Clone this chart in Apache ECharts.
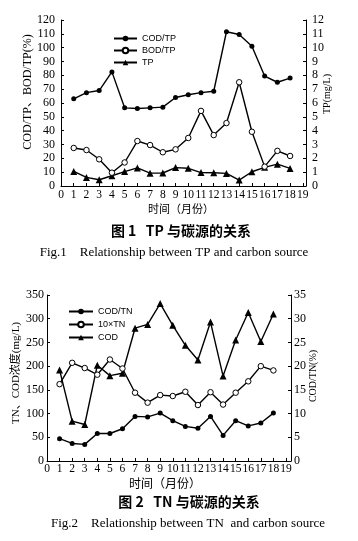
<!DOCTYPE html>
<html><head><meta charset="utf-8">
<script src="https://cdn.jsdelivr.net/npm/echarts@6/dist/echarts.min.js"></script>
<style>html,body{margin:0;padding:0;background:#fff}#c{width:358px;height:541px}</style>
</head><body><div id="c"></div>
<script>
var months = [1,2,3,4,5,6,7,8,9,10,11,12,13,14,15,16,17,18];
// Figure 1
var codTP = [63,67.5,69,82.5,56.5,56,56.5,57,64,66,67.5,68.5,111.5,109.5,101,79.5,75,78];
var bodTP = [27.5,26,19.3,9.6,17,32.5,29.6,24.4,26.5,34.7,54.3,36.8,45.5,75,39.2,14,25.4,21.7];
var tp    = [1.05,0.62,0.45,0.74,1.04,1.31,0.93,0.94,1.33,1.28,0.97,0.96,0.91,0.43,1.03,1.35,1.58,1.27];
// Figure 2
var codTN = [4.7,3.7,3.5,5.8,5.8,6.8,9.4,9.3,10.1,8.5,7.3,6.9,9.4,5.4,8.5,7.4,8.0,10.1];
var tn10  = [162,207,196,182,214,195,144,123,139,137,146,118,145,119,144,168,200,191];
var cod   = [192,84,77,202,180,185,280,288,332,286,244,213,293,179,255,313,252,310];

var leftTicks1 = {min:0,max:120,interval:10};
var rightTicks1 = {min:0,max:12,interval:1};
var leftTicks2 = {min:0,max:350,interval:50};
var rightTicks2 = {min:0,max:35,interval:5};

function pairs(arr){ return months.map(function(m,i){ return [m, arr[i]]; }); }

var SERIF = '"Liberation Serif","Times New Roman",serif';
var LEG = '"Liberation Sans Narrow","Liberation Sans",Arial,sans-serif';

function xAx(grid, max){
  return {type:'value', gridIndex:grid, min:0, max:max, interval:1,
    axisLine:{show:true,onZero:false,lineStyle:{color:'#000',width:1}},
    axisTick:{show:true,inside:true,length:3,lineStyle:{color:'#000'}},
    splitLine:{show:false},
    axisLabel:{color:'#000',fontFamily:SERIF,fontSize:11.5,margin:grid===0?3:2,
      formatter:function(v){ return Math.abs(v-Math.round(v))<1e-6 ? String(Math.round(v)) : ''; }}};
}
function yAx(grid, pos, t, margin){
  return {type:'value', gridIndex:grid, position:pos, min:t.min, max:t.max, interval:t.interval,
    axisLine:{show:true,onZero:false,lineStyle:{color:'#000',width:1}},
    axisTick:{show:true,inside:true,length:3,lineStyle:{color:'#000'}},
    splitLine:{show:false},
    axisLabel:{color:'#000',fontFamily:SERIF,fontSize:12,margin:margin}};
}
function ser(name, data, xi, yi, kind){
  var s = {name:name, type:'line', xAxisIndex:xi, yAxisIndex:yi, data:pairs(data),
    lineStyle:{color:'#000',width:1.4}, symbolSize:5, symbol:'circle',
    itemStyle:{color:'#000'}, emphasis:{disabled:true}, animation:false, z:3};
  if(kind==='open'){ s.itemStyle={color:'#fff',borderColor:'#000',borderWidth:1}; s.symbolSize=5.5; s.z=4; }
  if(kind==='tri'){ s.symbol='triangle'; s.symbolSize=7; }
  return s;
}

var chart = echarts.init(document.getElementById('c'), null, {renderer:'canvas'});
chart.setOption({
  animation:false,
  backgroundColor:'#fff',
  grid:[
    {left:61, right:52, top:20, bottom:355, containLabel:false},
    {left:47, right:67, top:295, bottom:80, containLabel:false}
  ],
  xAxis:[xAx(0,19.25), xAx(1,19.4)],
  yAxis:[yAx(0,'left',leftTicks1,6), yAx(0,'right',rightTicks1,6),
         yAx(1,'left',leftTicks2,3), yAx(1,'right',rightTicks2,3)],
  legend:[
    {data:['COD/TP','BOD/TP','TP'], orient:'vertical', left:108, top:29, itemWidth:23, itemHeight:7, itemGap:3,
     textStyle:{fontFamily:LEG,fontSize:9,color:'#000'}, selectedMode:false},
    {data:['COD/TN','10×TN','COD'], orient:'vertical', left:63, top:302, itemWidth:24, itemHeight:7, itemGap:4,
     textStyle:{fontFamily:LEG,fontSize:9,color:'#000'}, selectedMode:false}
  ],
  series:[
    ser('COD/TP', codTP, 0, 0, 'dot'),
    ser('BOD/TP', bodTP, 0, 0, 'open'),
    ser('TP', tp, 0, 1, 'tri'),
    ser('COD/TN', codTN, 1, 3, 'dot'),
    ser('10×TN', tn10, 1, 2, 'open'),
    ser('COD', cod, 1, 2, 'tri')
  ],
  graphic:[
    {type:'text', x:28, y:92, rotation:Math.PI/2, style:{text:'COD/TP、BOD/TP(%)', font:'12px '+SERIF+',"Noto Sans CJK SC"', fill:'#000', align:'center', verticalAlign:'middle'}},
    {type:'text', x:327, y:94, rotation:Math.PI/2, style:{text:'TP(mg/L)', font:'10px '+SERIF, fill:'#000', align:'center', verticalAlign:'middle'}},
    {type:'text', x:181, y:209, style:{text:'时间（月份）', font:'11px "Noto Sans CJK SC"', fill:'#000', align:'center', verticalAlign:'middle'}},
    {type:'text', x:181, y:231, style:{text:'图 1   TP 与碳源的关系', font:'bold 14px "Noto Sans CJK SC"', fill:'#000', align:'center', verticalAlign:'middle'}},
    {type:'text', x:174, y:253, style:{text:'Fig.1    Relationship between TP and carbon source', font:'13px '+SERIF, fill:'#000', align:'center', verticalAlign:'middle'}},

    {type:'text', x:16, y:373, rotation:Math.PI/2, style:{text:'TN、COD浓度(mg/L)', font:'11px '+SERIF+',"Noto Sans CJK SC"', fill:'#000', align:'center', verticalAlign:'middle'}},
    {type:'text', x:313, y:376, rotation:Math.PI/2, style:{text:'COD/TN(%)', font:'10px '+SERIF, fill:'#000', align:'center', verticalAlign:'middle'}},
    {type:'text', x:165, y:483, style:{text:'时间（月份）', font:'12px "Noto Sans CJK SC"', fill:'#000', align:'center', verticalAlign:'middle'}},
    {type:'text', x:189, y:502, style:{text:'图 2   TN 与碳源的关系', font:'bold 14px "Noto Sans CJK SC"', fill:'#000', align:'center', verticalAlign:'middle'}},
    {type:'text', x:188, y:524, style:{text:'Fig.2    Relationship between TN  and carbon source', font:'13px '+SERIF, fill:'#000', align:'center', verticalAlign:'middle'}}
  ]
});
</script></body></html>
